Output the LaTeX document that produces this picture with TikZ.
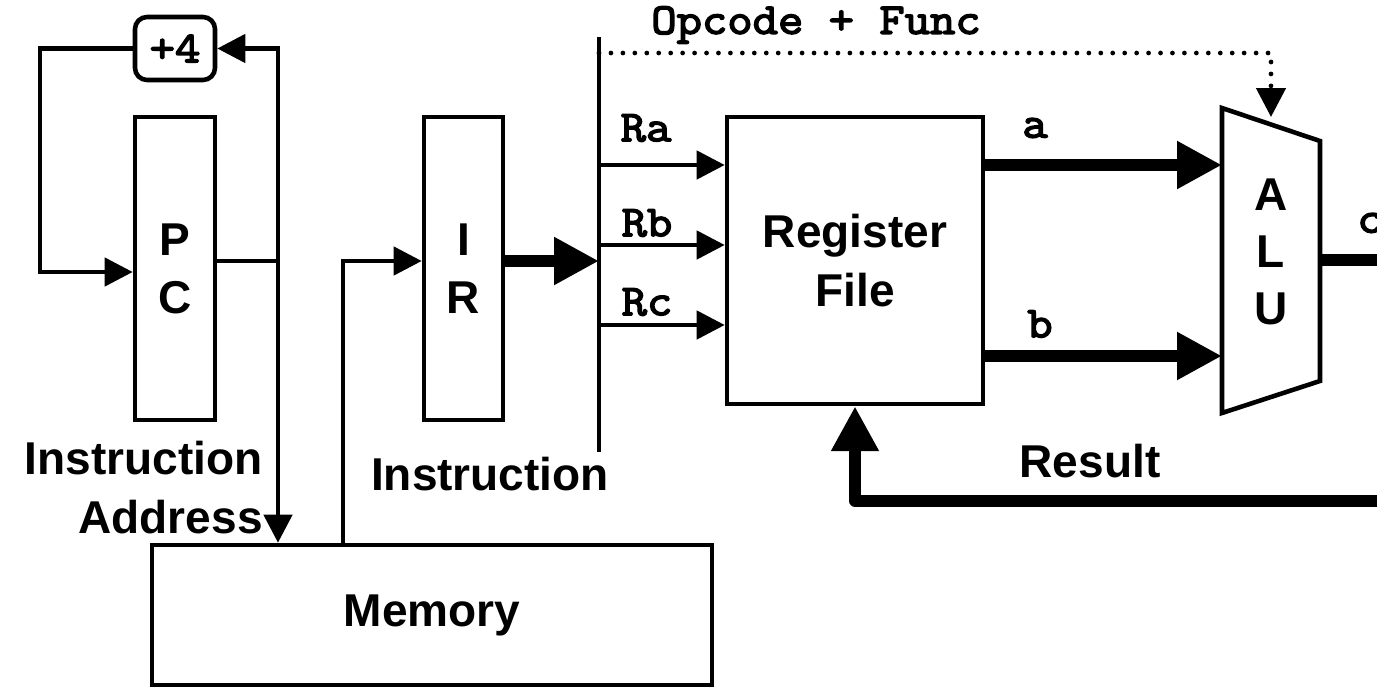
\documentclass[tikz,border=0pt]{standalone}
\usepackage{fontspec}
\setmainfont{Liberation Sans}
\newfontfamily\monoface[FakeBold=3.5,FakeStretch=1.12]{Latin Modern Mono}
\usetikzlibrary{arrows.meta}
\newcommand\sansbig{\fontsize{26.2}{33}\selectfont\bfseries}
\newcommand\monobig{\fontsize{25}{30}\selectfont\monoface}
\begin{document}
\begin{tikzpicture}[x=0.02cm,y=-0.02cm,
  box/.style={draw,line width=2.6pt,inner sep=0pt,align=center,font=\sansbig},
  lbl/.style={inner sep=0pt,align=center,font=\sansbig},
  mlbl/.style={inner sep=0pt,font=\monobig},
  wire/.style={line width=2.6pt,-{Triangle[length=16pt,width=16pt]}},
  plainwire/.style={line width=2.6pt},
  fat/.style={line width=6.5pt,-{Triangle[length=25.6pt,width=25.6pt]}},
  fatline/.style={line width=6.5pt},
  dotline/.style={line width=2.7pt,line cap=round,dash pattern=on 0pt off 6.8pt,
     -{Triangle[length=16.5pt,width=16.5pt]}}
]
\clip (0,0) rectangle (1377,687);

% boxes
\node[box,rounded corners=0.24cm,minimum width=1.6cm,minimum height=1.26cm,font=\monobig] (inc) at (175,48.5) {+4};
\node[box,minimum width=1.6cm,minimum height=6.06cm] (pc) at (175,268.5) {P\\C};
\node[box,minimum width=1.58cm,minimum height=6.06cm] (ir) at (463.5,268.5) {I\\R};
\node[box,minimum width=11.2cm,minimum height=2.8cm] (mem) at (432,615) {Memory};
\node[box,minimum width=5.12cm,minimum height=5.74cm,font=\fontsize{26.2}{34}\selectfont\bfseries] (reg) at (855,260.5) {Register\\File};

% ALU
\coordinate (aluTL) at (1222,108);
\coordinate (aluTR) at (1320,141);
\coordinate (aluBR) at (1320,381);
\coordinate (aluBL) at (1222,413);
\draw[line width=2.6pt,line join=miter] (aluTL) -- (aluTR) -- (aluBR) -- (aluBL) -- cycle;
\node[lbl,font=\fontsize{26.2}{32.4}\selectfont\bfseries] (alu) at (1271,252) {A\\L\\U};

% coordinates
\coordinate (loopL) at (40,272);
\coordinate (pcj) at (278,261);
\coordinate (mj) at (343,261);
\coordinate (bustop) at (599,37);
\coordinate (busbot) at (599,452);
\coordinate (dotc) at (1271,53);
\coordinate (alutop) at (1271,117);
\coordinate (ra) at (599,165);
\coordinate (rb) at (599,245);
\coordinate (rc) at (599,325);
\coordinate (ain) at (1222,165);
\coordinate (bin) at (1222,356);
\coordinate (cout) at (1320,260);
\coordinate (cend) at (1390,260);
\coordinate (rstart) at (1390,501);

% PC loop
\draw[wire] (inc.west) -| (loopL) -- (pc.west |- loopL);
\draw[wire] (pc.east |- pcj) -- (pcj) |- (inc.east);
\draw[wire] (pcj) -- (pcj |- mem.north);

% memory to IR
\draw[wire] (mem.north -| mj) |- (ir.west |- mj);
\draw[fat] (ir.east |- mj) -- (mj -| bustop);

% bus
\draw[plainwire] (bustop) -- (busbot);
\draw[dotline] (bustop |- dotc) -- (dotc) -- (alutop);

\draw[wire] (ra) -- (ra -| reg.west);
\draw[wire] (rb) -- (rb -| reg.west);
\draw[wire] (rc) -- (rc -| reg.west);

% register to ALU
\draw[fat] (ain -| reg.east) -- (ain);
\draw[fat] (bin -| reg.east) -- (bin);
\draw[fatline] (cout) -- (cend);
\draw[fat,line join=round] (rstart) -| (reg.south);

% labels
\node[mlbl] (opc) at (816,25) {Opcode + Func};
\node[mlbl] (lra) at (646,128) {Ra};
\node[mlbl] (lrb) at (647,223) {Rb};
\node[mlbl] (lrc) at (647,302) {Rc};
\node[mlbl] (la) at (1035,128) {a};
\node[mlbl] (lb) at (1040,324) {b};
\node[mlbl] (lc) at (1370,223) {c};
\node[lbl,align=right,anchor=east,font=\fontsize{26.2}{33.6}\selectfont\bfseries] (iaddr) at (263,488) {Instruction\\Address};
\node[lbl] (instr) at (490,474) {Instruction};
\node[lbl] (res) at (1090,461) {Result};
\end{tikzpicture}
\end{document}
